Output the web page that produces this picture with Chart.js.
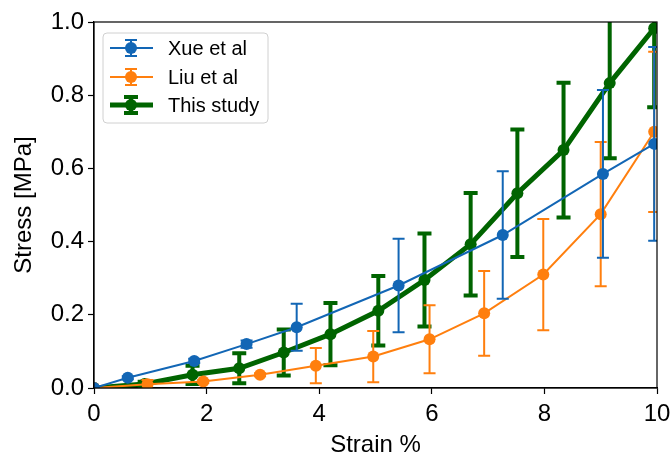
<!DOCTYPE html>
<html lang="en">

<head>
    <meta charset="utf-8">
    <style>
        body { margin: 0; background: #fff; }
    </style>
</head>

<body>
    <!-- Stress-strain chart canvas -->
    <canvas id="StressChart" width="671" height="455"></canvas>

    <script src="https://cdn.jsdelivr.net/npm/chart.js"></script>

    <script>
        // Strain (%) / stress (MPa) with standard deviation for each source
        const xueStrain = [0, 0.6, 1.78, 2.71, 3.6, 5.41, 7.26, 9.04, 9.95];
        const xueStress = [0, 0.028, 0.074, 0.12, 0.166, 0.28, 0.418, 0.585, 0.667];
        const xueError = [0, 0.004, 0.006, 0.01, 0.064, 0.128, 0.174, 0.229, 0.265];

        const liuStrain = [0, 0.95, 1.94, 2.95, 3.94, 4.96, 5.96, 6.93, 7.98, 9.0, 9.95];
        const liuStress = [0, 0.01, 0.018, 0.036, 0.061, 0.086, 0.133, 0.204, 0.31, 0.475, 0.70];
        const liuError = [0, 0.012, 0.004, 0.004, 0.048, 0.07, 0.093, 0.116, 0.152, 0.197, 0.219];

        const studyStrain = [0, 0.9, 1.75, 2.58, 3.37, 4.2, 5.05, 5.87, 6.69, 7.52, 8.34, 9.16, 9.95];
        const studyStress = [0, 0.011, 0.036, 0.054, 0.097, 0.147, 0.211, 0.295, 0.393, 0.532, 0.65, 0.833, 0.983];
        const studyError = [0, 0.006, 0.025, 0.041, 0.063, 0.085, 0.095, 0.127, 0.14, 0.174, 0.184, 0.205, 0.216];

        const seriesNames = ['Xue et al', 'Liu et al', 'This study'];
        const xTicks = [0, 2, 4, 6, 8, 10];
        const yTicks = [0, 0.2, 0.4, 0.6, 0.8, 1.0];

        const BLUE = '#1266b5';
        const ORANGE = '#ff7f0e';
        const GREEN = '#006400';
        const FONT = "'Liberation Sans', Arial, sans-serif";

        // Pair x and y arrays into Chart.js points
        function toPoints(xs, ys) {
            return xs.map((x, i) => ({ x: x, y: ys[i] }));
        }

        // Per-series error bar style, same order as the datasets
        const errorStyle = [
            { values: xueError, color: BLUE, width: 2, cap: 6 },
            { values: liuError, color: ORANGE, width: 2, cap: 6 },
            { values: studyError, color: GREEN, width: 4, cap: 7 }
        ];

        // Vertical error bars with caps, drawn just before each dataset's line
        const errorBars = {
            id: 'errorBars',
            beforeDatasetDraw(chart, args) {
                const style = errorStyle[args.index];
                const ctx = chart.ctx;
                const area = chart.chartArea;
                const yScale = chart.scales.y;
                const pts = chart.data.datasets[args.index].data;
                ctx.save();
                ctx.beginPath();
                ctx.rect(area.left, area.top, area.right - area.left, area.bottom - area.top);
                ctx.clip();
                ctx.strokeStyle = style.color;
                ctx.lineWidth = style.width;
                pts.forEach((p, i) => {
                    const e = style.values[i];
                    if (!e) return;
                    const x = args.meta.data[i].x;
                    const yTop = yScale.getPixelForValue(p.y + e);
                    const yBot = yScale.getPixelForValue(p.y - e);
                    ctx.beginPath();
                    ctx.moveTo(x, yTop);
                    ctx.lineTo(x, yBot);
                    ctx.moveTo(x - style.cap, yTop);
                    ctx.lineTo(x + style.cap, yTop);
                    ctx.moveTo(x - style.cap, yBot);
                    ctx.lineTo(x + style.cap, yBot);
                    ctx.stroke();
                });
                ctx.restore();
            }
        };

        // Full box round the plot area plus the legend in the upper left
        const frameAndLegend = {
            id: 'frameAndLegend',
            afterDraw(chart) {
                const ctx = chart.ctx;
                const a = chart.chartArea;
                ctx.save();
                ctx.strokeStyle = '#000';
                ctx.lineWidth = 1.2;
                ctx.strokeRect(a.left, a.top, a.right - a.left, a.bottom - a.top);

                // legend box
                const bx = 103, by = 33, bw = 165, bh = 90, r = 4;
                ctx.beginPath();
                ctx.moveTo(bx + r, by);
                ctx.arcTo(bx + bw, by, bx + bw, by + bh, r);
                ctx.arcTo(bx + bw, by + bh, bx, by + bh, r);
                ctx.arcTo(bx, by + bh, bx, by, r);
                ctx.arcTo(bx, by, bx + bw, by, r);
                ctx.closePath();
                ctx.fillStyle = 'rgba(255,255,255,0.8)';
                ctx.fill();
                ctx.strokeStyle = '#d0d0d0';
                ctx.lineWidth = 1;
                ctx.stroke();

                const rows = [48, 77, 105];
                chart.data.datasets.forEach((ds, i) => {
                    const y = rows[i];
                    const st = errorStyle[i];
                    const cx = 131;
                    ctx.strokeStyle = st.color;
                    ctx.lineWidth = ds.borderWidth;
                    ctx.beginPath();
                    ctx.moveTo(110, y);
                    ctx.lineTo(153, y);
                    ctx.stroke();
                    ctx.lineWidth = st.width;
                    ctx.beginPath();
                    ctx.moveTo(cx, y - 8);
                    ctx.lineTo(cx, y + 8);
                    ctx.moveTo(cx - st.cap, y - 8);
                    ctx.lineTo(cx + st.cap, y - 8);
                    ctx.moveTo(cx - st.cap, y + 8);
                    ctx.lineTo(cx + st.cap, y + 8);
                    ctx.stroke();
                    ctx.fillStyle = st.color;
                    ctx.beginPath();
                    ctx.arc(cx, y, ds.pointRadius, 0, Math.PI * 2);
                    ctx.fill();

                    ctx.fillStyle = '#000';
                    ctx.font = '20px ' + FONT;
                    ctx.textBaseline = 'middle';
                    ctx.fillText(seriesNames[i], 168, y + 1);
                });
                ctx.restore();
            }
        };

        function lineSet(label, pts, color, width, radius) {
            return {
                label: label,
                data: pts,
                borderColor: color,
                backgroundColor: color,
                borderWidth: width,
                pointRadius: radius,
                pointBorderWidth: 0,
                pointBackgroundColor: color,
                tension: 0,
                clip: 0
            };
        }

        const ctx = document.getElementById('StressChart').getContext('2d');
        const myChart = new Chart(ctx, {
            type: 'line',
            data: {
                datasets: [
                    lineSet(seriesNames[0], toPoints(xueStrain, xueStress), BLUE, 2, 6),
                    lineSet(seriesNames[1], toPoints(liuStrain, liuStress), ORANGE, 2, 6),
                    lineSet(seriesNames[2], toPoints(studyStrain, studyStress), GREEN, 5, 6)
                ]
            },
            options: {
                responsive: false,
                animation: false,
                layout: { padding: { top: 22, right: 14, left: 0, bottom: 0 } },
                plugins: {
                    legend: { display: false },
                    tooltip: { enabled: false }
                },
                scales: {
                    x: {
                        type: 'linear',
                        min: 0,
                        max: 10,
                        afterBuildTicks: s => { s.ticks = xTicks.map(v => ({ value: v })); },
                        afterFit: s => {
                            s.height = 67;
                            s.paddingLeft = 0;
                            s.paddingRight = 0;
                        },
                        ticks: {
                            color: '#000',
                            padding: 6,
                            maxRotation: 0,
                            font: { family: FONT, size: 24 },
                            callback: v => String(v)
                        },
                        grid: { drawOnChartArea: false, color: '#000', tickLength: 6, tickWidth: 1.2 },
                        border: { color: '#000', width: 1.2 },
                        title: {
                            display: true,
                            text: 'Strain %',
                            color: '#000',
                            font: { family: FONT, size: 24, lineHeight: 0.8 },
                            padding: { top: 0, bottom: 0 }
                        }
                    },
                    y: {
                        type: 'linear',
                        min: 0,
                        max: 1,
                        afterBuildTicks: s => { s.ticks = yTicks.map(v => ({ value: v })); },
                        afterFit: s => {
                            s.width = 94;
                            s.paddingTop = 0;
                            s.paddingBottom = 0;
                        },
                        ticks: {
                            color: '#000',
                            padding: 4,
                            font: { family: FONT, size: 24 },
                            callback: v => v.toFixed(1)
                        },
                        grid: { drawOnChartArea: false, color: '#000', tickLength: 6, tickWidth: 1.2 },
                        border: { color: '#000', width: 1.2 },
                        title: {
                            display: true,
                            text: 'Stress [MPa]',
                            color: '#000',
                            font: { family: FONT, size: 24 },
                            padding: { top: 10, bottom: 0 }
                        }
                    }
                }
            },
            plugins: [errorBars, frameAndLegend]
        });
    </script>
</body>

</html>
